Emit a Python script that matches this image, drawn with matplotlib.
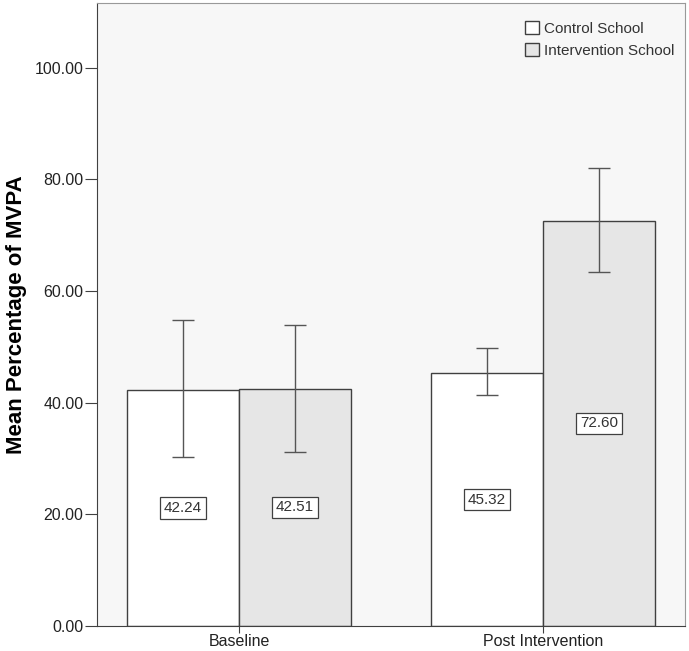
import numpy as np
import matplotlib.pyplot as plt
from matplotlib.ticker import FormatStrFormatter

plt.rcParams['font.family'] = ['Liberation Sans', 'DejaVu Sans']

# data
groups = ['Baseline', 'Post Intervention']
schools = ['Control School', 'Intervention School']
means = {
    'Control School': [42.24, 45.32],
    'Intervention School': [42.51, 72.60],
}
err_low = {
    'Control School': [30.2, 41.3],
    'Intervention School': [31.2, 63.5],
}
err_high = {
    'Control School': [54.8, 49.8],
    'Intervention School': [54.0, 82.0],
}
fills = {'Control School': '#ffffff', 'Intervention School': '#e6e6e6'}

fig = plt.figure(figsize=(6.89, 6.51), dpi=100)
ax = fig.add_axes([0.141, 0.0384, 0.853, 0.957])
ax.set_facecolor('#f7f7f7')

x = np.arange(len(groups))
width = 0.368
offsets = [-width / 2, width / 2]

for off, s in zip(offsets, schools):
    m = np.array(means[s])
    lo = m - np.array(err_low[s])
    hi = np.array(err_high[s]) - m
    ax.bar(x + off, m, width, color=fills[s], edgecolor='#404040',
           linewidth=1.0, label=s, zorder=2)
    ax.errorbar(x + off, m, yerr=[lo, hi], fmt='none', ecolor='#555555',
                elinewidth=1.0, capsize=8, capthick=1.0, zorder=3)
    for xi, v in zip(x + off, m):
        ax.text(xi, v / 2, f'{v:.2f}', ha='center', va='center', fontsize=11,
                color='#333333', zorder=4,
                bbox=dict(boxstyle='square,pad=0.25', fc='white', ec='#404040', lw=0.9))

ax.set_xlim(-0.467, 1.467)
ax.set_ylim(0, 111.6)
ax.set_xticks(x)
ax.set_xticklabels(groups, fontsize=11.5, color='#222222')
ax.set_yticks([0, 20, 40, 60, 80, 100])
ax.yaxis.set_major_formatter(FormatStrFormatter('%.2f'))
ax.tick_params(axis='y', labelsize=11.5, length=9, pad=1, color='#404040', labelcolor='#222222')
ax.tick_params(axis='x', length=5, pad=1, color='#404040')
ax.set_ylabel('Mean Percentage of MVPA', fontsize=16, fontweight='bold', labelpad=5)

for side in ['left', 'bottom']:
    ax.spines[side].set_color('#404040')
for side in ['top', 'right']:
    ax.spines[side].set_color('#999999')

leg = ax.legend(loc='upper right', bbox_to_anchor=(1.005, 0.993), frameon=False,
                fontsize=11, handlelength=0.9, handleheight=0.9, handletextpad=0.3,
                labelspacing=0.5)
for t in leg.get_texts():
    t.set_color('#333333')

fig.savefig('out.png', dpi=100)
